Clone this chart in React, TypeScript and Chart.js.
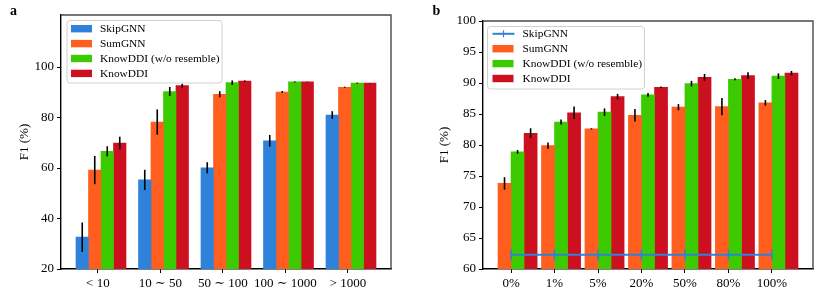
import React, { useEffect, useRef } from 'react';
import { Chart, registerables } from 'chart.js';
Chart.register(...registerables);

// ---------- data ----------
const seriesNames = ['SkipGNN', 'SumGNN', 'KnowDDI (w/o resemble)', 'KnowDDI'];
const seriesColors = ['#2E82D9', '#FF5E1E', '#3CCB00', '#CC101F'];

const categoriesA = ['< 10', '10 ∼ 50', '50 ∼ 100', '100 ∼ 1000', '> 1000'];
const skipA = [32.6, 55.3, 60.1, 70.8, 81.0];
const skipErrA = [5.8, 4.0, 2.2, 2.3, 1.5];
const sumA = [59.2, 78.2, 89.2, 90.1, 92.0];
const sumErrA = [5.6, 5.0, 1.2, 0.4, 0.2];
const woA = [66.6, 90.3, 93.8, 94.1, 93.6];
const woErrA = [2.0, 1.8, 0.9, 0.2, 0.2];
const knowA = [69.9, 92.6, 94.4, 94.1, 93.6];
const knowErrA = [2.5, 0.8, 0.3, 0.1, 0.1];
const yTicksA = [20, 40, 60, 80, 100];

const categoriesB = ['0%', '1%', '5%', '20%', '50%', '80%', '100%'];
const skipB = [62.3, 62.3, 62.3, 62.3, 62.3, 62.3, 62.3];
const sumB = [73.8, 79.9, 82.6, 84.8, 86.1, 86.2, 86.8];
const sumErrB = [1.0, 0.5, 0.1, 1.0, 0.5, 1.4, 0.45];
const woB = [78.9, 83.7, 85.3, 88.1, 89.9, 90.6, 91.1];
const woErrB = [0.3, 0.4, 0.6, 0.3, 0.45, 0.15, 0.45];
const knowB = [81.9, 85.2, 87.8, 89.3, 90.9, 91.2, 91.6];
const knowErrB = [0.8, 1.0, 0.45, 0.15, 0.55, 0.55, 0.35];
const yTicksB = [60, 65, 70, 75, 80, 85, 90, 95, 100];

// ---------- styling ----------
const FONT = "'Liberation Serif', 'DejaVu Serif', serif";
const W = 415;
const H = 305;

type PanelCfg = {
  letter: string;
  letterX: number;
  area: { left: number; top: number; right: number; bottom: number };
  xMin: number;
  xMax: number;
  barShift: number;
  catPct: number;
  yMin: number;
  yMax: number;
  yTicks: number[];
  categories: string[];
  bars: { name: string; color: string; values: number[]; errs: number[] }[];
  line?: { name: string; color: string; values: number[] };
  legend: { x: number; y: number; w: number; h: number; swX: number; txtX: number; row0: number; rowGap: number };
  yTitleX: number;
};

function makeBarConfig(p: PanelCfg): any {
  const pxPerUnit = (p.area.right - p.area.left) / (p.xMax - p.xMin);
  const barPx = (pxPerUnit * p.catPct) / p.bars.length;

  const datasets: any[] = p.bars.map((b) => ({
    type: 'bar',
    label: b.name,
    data: b.values.map((v, i) => ({ x: i, y: v })),
    xAxisID: 'xb',
    yAxisID: 'y',
    backgroundColor: b.color,
    borderWidth: 0,
    barThickness: barPx,
  }));

  const XAXIS_H = 30;
  const YAXIS_W = 40;

  const plugin = {
    id: 'decor',
    afterDatasetsDraw(chart: any) {
      const ctx = chart.ctx;
      const ys = chart.scales.y;
      ctx.save();
      ctx.strokeStyle = '#000';
      ctx.lineWidth = 1.6;
      p.bars.forEach((b, di) => {
        const meta = chart.getDatasetMeta(di);
        meta.data.forEach((el: any, j: number) => {
          const v = b.values[j];
          const e = b.errs[j];
          ctx.beginPath();
          ctx.moveTo(el.x, ys.getPixelForValue(v - e));
          ctx.lineTo(el.x, ys.getPixelForValue(v + e));
          ctx.stroke();
        });
      });
      ctx.restore();
    },
    afterDraw(chart: any) {
      const ctx = chart.ctx;
      const a = chart.chartArea;
      ctx.save();
      // top & right spines
      ctx.strokeStyle = '#4a4a4a';
      ctx.lineWidth = 1.4;
      ctx.beginPath();
      ctx.moveTo(a.left, a.top);
      ctx.lineTo(a.right, a.top);
      ctx.lineTo(a.right, a.bottom);
      ctx.stroke();

      // legend
      const L = p.legend;
      ctx.fillStyle = 'rgba(255,255,255,0.85)';
      ctx.strokeStyle = '#d0d0d0';
      ctx.lineWidth = 1;
      ctx.beginPath();
      (ctx as any).roundRect(L.x + 0.5, L.y + 0.5, L.w, L.h, 3);
      ctx.fill();
      ctx.stroke();
      const entries: { name: string; color: string; kind: string }[] = [];
      if (p.line) entries.push({ name: p.line.name, color: p.line.color, kind: 'line' });
      p.bars.forEach((b) => {
        if (!entries.find((e) => e.name === b.name)) entries.push({ name: b.name, color: b.color, kind: 'bar' });
      });
      ctx.font = `11.4px ${FONT}`;
      ctx.textBaseline = 'middle';
      ctx.textAlign = 'left';
      entries.forEach((e, k) => {
        const cy = L.row0 + k * L.rowGap;
        if (e.kind === 'line') {
          ctx.strokeStyle = e.color;
          ctx.lineWidth = 2;
          ctx.beginPath();
          ctx.moveTo(L.swX, cy);
          ctx.lineTo(L.swX + 22, cy);
          ctx.stroke();
          ctx.lineWidth = 1.2;
          ctx.beginPath();
          ctx.moveTo(L.swX + 11, cy - 3.5);
          ctx.lineTo(L.swX + 11, cy + 3.5);
          ctx.stroke();
        } else {
          ctx.fillStyle = e.color;
          ctx.fillRect(L.swX, cy - 3.7, 21, 7.4);
        }
        ctx.fillStyle = '#000';
        ctx.fillText(e.name, L.txtX, cy + 0.5);
      });

      // y title
      ctx.save();
      ctx.translate(p.yTitleX, (a.top + a.bottom) / 2);
      ctx.rotate(-Math.PI / 2);
      ctx.textAlign = 'center';
      ctx.textBaseline = 'middle';
      ctx.font = `13px ${FONT}`;
      ctx.fillStyle = '#000';
      ctx.fillText('F1 (%)', 0, 0);
      ctx.restore();

      // panel letter
      ctx.font = `bold 14px ${FONT}`;
      ctx.fillStyle = '#000';
      ctx.textBaseline = 'alphabetic';
      ctx.textAlign = 'left';
      ctx.fillText(p.letter, p.letterX, 15);
      ctx.restore();
    },
  };

  const tickFont = { family: FONT, size: 13 };
  const catTicks = (s: any) => {
    s.ticks = p.categories.map((_, i) => ({ value: i }));
  };

  return {
    type: 'bar',
    data: { datasets },
    plugins: [plugin],
    options: {
      responsive: false,
      animation: false,
      devicePixelRatio: 1,
      layout: {
        padding: {
          left: p.area.left - YAXIS_W,
          top: p.area.top,
          right: W - p.area.right,
          bottom: H - p.area.bottom - XAXIS_H,
        },
      },
      plugins: { legend: { display: false }, tooltip: { enabled: false }, title: { display: false } },
      scales: {
        x: {
          type: 'linear',
          position: 'bottom',
          offset: false,
          min: p.xMin,
          max: p.xMax,
          afterBuildTicks: catTicks,
          afterFit: (s: any) => {
            s.height = XAXIS_H;
          },
          ticks: {
            autoSkip: false,
            maxRotation: 0,
            padding: 3,
            color: '#000',
            font: tickFont,
            callback: (v: any) => p.categories[Math.round(Number(v))] ?? '',
          },
          grid: { display: true, offset: false, drawOnChartArea: false, drawTicks: true, tickLength: 4, tickColor: '#000', tickWidth: 1 },
          border: { display: true, color: '#000', width: 1.4 },
        },
        xb: {
          type: 'linear',
          display: false,
          offset: false,
          grid: { offset: false },
          min: p.xMin - p.barShift,
          max: p.xMax - p.barShift,
          afterBuildTicks: catTicks,
        },
        y: {
          type: 'linear',
          position: 'left',
          min: p.yMin,
          max: p.yMax,
          afterBuildTicks: (s: any) => {
            s.ticks = p.yTicks.map((v) => ({ value: v }));
          },
          afterFit: (s: any) => {
            s.width = YAXIS_W;
          },
          ticks: { padding: 3, color: '#000', font: tickFont },
          grid: { display: true, drawOnChartArea: false, drawTicks: true, tickLength: 4, tickColor: '#000', tickWidth: 1 },
          border: { display: true, color: '#000', width: 1.4 },
        },
      },
    },
  };
}

// overlay chart for the line series, sharing the same plot area
function makeLineConfig(p: PanelCfg): any {
  const line = p.line!;
  return {
    type: 'line',
    data: {
      datasets: [
        {
          label: line.name,
          data: line.values.map((v, i) => ({ x: i, y: v })),
          borderColor: line.color,
          borderWidth: 2,
          pointStyle: 'line',
          rotation: 90,
          pointRadius: 5.5,
          pointBorderWidth: 1.5,
          pointBorderColor: line.color,
          tension: 0,
        },
      ],
    },
    options: {
      responsive: false,
      animation: false,
      devicePixelRatio: 1,
      layout: {
        padding: {
          left: p.area.left,
          top: p.area.top,
          right: W - p.area.right,
          bottom: H - p.area.bottom,
        },
      },
      plugins: { legend: { display: false }, tooltip: { enabled: false }, title: { display: false } },
      scales: {
        x: { type: 'linear', display: false, offset: false, min: p.xMin, max: p.xMax },
        y: { type: 'linear', display: false, min: p.yMin, max: p.yMax },
      },
    },
  };
}

const panelA: PanelCfg = {
  letter: 'a',
  letterX: 10,
  area: { left: 61, top: 15, right: 391, bottom: 269 },
  xMin: -0.59,
  xMax: 4.69,
  barShift: 0.05,
  catPct: 0.8,
  yMin: 20,
  yMax: 120.6,
  yTicks: yTicksA,
  categories: categoriesA,
  bars: [
    { name: seriesNames[0], color: seriesColors[0], values: skipA, errs: skipErrA },
    { name: seriesNames[1], color: seriesColors[1], values: sumA, errs: sumErrA },
    { name: seriesNames[2], color: seriesColors[2], values: woA, errs: woErrA },
    { name: seriesNames[3], color: seriesColors[3], values: knowA, errs: knowErrA },
  ],
  legend: { x: 66.5, y: 20, w: 155, h: 62.5, swX: 71, txtX: 100, row0: 28.7, rowGap: 14.9 },
  yTitleX: 25,
};

const panelB: PanelCfg = {
  letter: 'b',
  letterX: 17.5,
  area: { left: 68, top: 21, right: 398, bottom: 269 },
  xMin: -0.645,
  xMax: 6.945,
  barShift: 0.15,
  catPct: 0.9,
  yMin: 60,
  yMax: 100,
  yTicks: yTicksB,
  categories: categoriesB,
  bars: [
    { name: seriesNames[1], color: seriesColors[1], values: sumB, errs: sumErrB },
    { name: seriesNames[2], color: seriesColors[2], values: woB, errs: woErrB },
    { name: seriesNames[3], color: seriesColors[3], values: knowB, errs: knowErrB },
  ],
  line: { name: seriesNames[0], color: seriesColors[0], values: skipB },
  legend: { x: 72, y: 26, w: 157, h: 62.5, swX: 77.5, txtX: 107.5, row0: 33.8, rowGap: 14.9 },
  yTitleX: 30,
};

function Panel({ cfg }: { cfg: PanelCfg }) {
  const barRef = useRef<HTMLCanvasElement | null>(null);
  const lineRef = useRef<HTMLCanvasElement | null>(null);
  useEffect(() => {
    const charts: Chart[] = [];
    if (barRef.current) charts.push(new Chart(barRef.current, makeBarConfig(cfg)));
    if (cfg.line && lineRef.current) charts.push(new Chart(lineRef.current, makeLineConfig(cfg)));
    return () => charts.forEach((c) => c.destroy());
  }, [cfg]);
  return (
    <div style={{ position: 'relative', width: W, height: H }}>
      <canvas ref={barRef} width={W} height={H} style={{ position: 'absolute', left: 0, top: 0, width: W, height: H }} />
      {cfg.line ? (
        <canvas
          ref={lineRef}
          width={W}
          height={H}
          style={{ position: 'absolute', left: 0, top: 0, width: W, height: H, pointerEvents: 'none' }}
        />
      ) : null}
    </div>
  );
}

export default function App() {
  return (
    <div style={{ position: 'absolute', left: 0, top: 0, width: 830, height: 305, display: 'flex', background: '#fff' }}>
      <Panel cfg={panelA} />
      <Panel cfg={panelB} />
    </div>
  );
}
